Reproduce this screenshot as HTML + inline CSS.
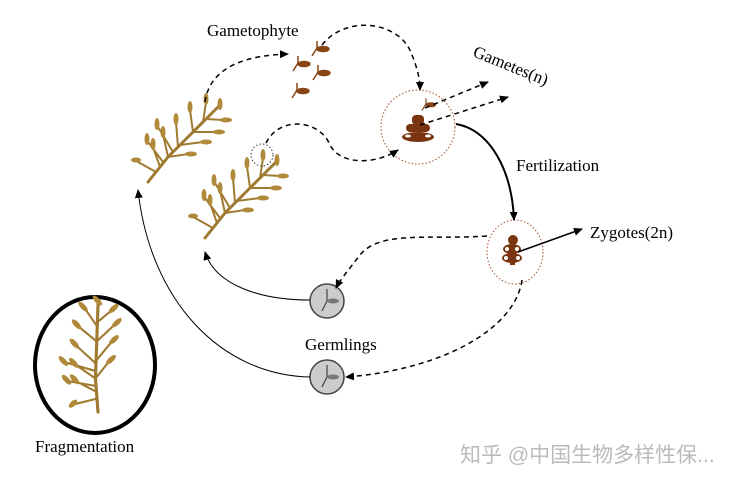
<!DOCTYPE html>
<html><head><meta charset="utf-8"><style>
html,body{margin:0;padding:0;background:#fff;}
svg{display:block;font-family:"Liberation Serif",serif;}
</style></head><body>
<svg width="737" height="483" viewBox="0 0 737 483" xmlns="http://www.w3.org/2000/svg">
<defs>
<marker id="a" markerWidth="10" markerHeight="10" refX="8" refY="5" orient="auto" markerUnits="userSpaceOnUse"><path d="M0,1 L9,5 L0,9 Z" fill="#000"/></marker>
<g id="weed" stroke="#a07a30" fill="none" stroke-linecap="round">
<path d="M0,0 L20,-25 L45,-50 L70,-75" stroke-width="3"/>
<path d="M12,-15 L5,-35 M20,-25 L15,-48 M30,-35 L28,-60 M45,-50 L42,-72 M55,-60 L58,-80 M20,-25 L40,-28 M32,-37 L55,-40 M45,-50 L68,-50 M58,-63 L75,-62 M8,-10 L-10,-20 M15,-20 L0,-40 M25,-30 L10,-55" stroke-width="2"/>
<g fill="#b08a3a" stroke="none">
<ellipse cx="5" cy="-38" rx="2.5" ry="6"/><ellipse cx="15" cy="-50" rx="2.5" ry="6"/><ellipse cx="28" cy="-63" rx="2.5" ry="6"/><ellipse cx="42" cy="-75" rx="2.5" ry="6"/><ellipse cx="58" cy="-83" rx="2.5" ry="6"/><ellipse cx="72" cy="-78" rx="2.5" ry="6"/><ellipse cx="43" cy="-28" rx="6" ry="2.5"/><ellipse cx="58" cy="-40" rx="6" ry="2.5"/><ellipse cx="71" cy="-50" rx="6" ry="2.5"/><ellipse cx="78" cy="-62" rx="6" ry="2.5"/><ellipse cx="-12" cy="-22" rx="5" ry="2.5"/><ellipse cx="-1" cy="-43" rx="2.5" ry="6"/><ellipse cx="9" cy="-58" rx="2.5" ry="6"/>
</g></g>
<g id="sprout" stroke="#8a4515" fill="#8a4515" stroke-width="1.5"><path d="M0,8 L5,0 L5,-7" fill="none"/><ellipse cx="11" cy="1" rx="6" ry="2.5"/></g>
<g id="germ"><circle r="17" fill="#ccc" stroke="#444" stroke-width="1.5"/><path d="M-5,10 L0,0 L0,-12" stroke="#444" fill="none" stroke-width="1.2"/><ellipse cx="6" cy="0" rx="6" ry="2.5" fill="#777"/></g>
</defs>

<text x="207" y="36" font-size="17">Gametophyte</text>
<text x="472" y="56" font-size="17" transform="rotate(22 472 56)">Gametes(n)</text>
<text x="516" y="171" font-size="17">Fertilization</text>
<text x="590" y="238" font-size="17">Zygotes(2n)</text>
<text x="305" y="350" font-size="17">Germlings</text>
<text x="35" y="452" font-size="17">Fragmentation</text>
<text x="460" y="462" font-size="21" fill="#bbb" font-family="'Liberation Sans','Noto Sans CJK SC',sans-serif">知乎 @中国生物多样性保...</text>

<use href="#weed" transform="translate(148,182)"/>
<use href="#weed" transform="translate(205,238)"/>
<circle cx="262" cy="155" r="11" fill="none" stroke="#333" stroke-dasharray="1.5 2"/>
<ellipse cx="95" cy="365" rx="60" ry="68" fill="none" stroke="#000" stroke-width="4"/>
<g transform="translate(98,412) rotate(-43) scale(1.05)"><use href="#weed"/></g>

<use href="#sprout" transform="translate(312,48)"/>
<use href="#sprout" transform="translate(293,63)"/>
<use href="#sprout" transform="translate(313,72)"/>
<use href="#sprout" transform="translate(292,90)"/>

<circle cx="418" cy="127" r="37" fill="none" stroke="#a0522d" stroke-dasharray="1.5 2"/>
<use href="#sprout" transform="translate(422,104) scale(0.8)"/>
<g fill="#7a3510"><rect x="412" y="115" width="12" height="10" rx="4"/><rect x="406" y="124" width="24" height="8" rx="4"/><ellipse cx="418" cy="137" rx="16" ry="5"/><ellipse cx="408" cy="136" rx="3" ry="1.5" fill="#fff"/><ellipse cx="428" cy="136" rx="3" ry="1.5" fill="#fff"/></g>

<ellipse cx="515" cy="252" rx="28" ry="32" fill="none" stroke="#a0522d" stroke-dasharray="1.5 2"/>
<g fill="#7a3510"><circle cx="513" cy="240" r="5"/><ellipse cx="512" cy="249" rx="9" ry="5"/><ellipse cx="512" cy="258" rx="10" ry="5"/><rect x="510" y="240" width="5" height="25"/></g>
<g fill="#fff"><circle cx="507" cy="249" r="2"/><circle cx="517" cy="249" r="2"/><circle cx="506" cy="258" r="2"/><circle cx="518" cy="258" r="2"/></g>

<use href="#germ" transform="translate(327,301)"/>
<use href="#germ" transform="translate(327,377)"/>

<g fill="none" stroke="#000" stroke-width="1.5" stroke-dasharray="5 4" marker-end="url(#a)">
<path d="M205,102 C210,65 250,55 288,54"/>
<path d="M322,45 C345,15 400,20 412,55 C418,70 420,80 420,90"/>
<path d="M266,143 C280,115 320,120 330,145 C340,165 375,165 398,150"/>
<path d="M425,108 L488,82"/>
<path d="M420,125 L508,97"/>
<path d="M487,236 C430,240 380,230 360,255 C350,268 340,280 336,288"/>
<path d="M522,280 C515,330 440,370 346,377"/>
</g>
<g fill="none" stroke="#000" marker-end="url(#a)">
<path d="M456,124 C490,130 512,170 514,220" stroke-width="2"/>
<path d="M518,252 L582,229" stroke-width="1.5"/>
<path d="M310,300 C260,300 215,285 205,252" stroke-width="1"/>
<path d="M310,377 C220,375 150,300 138,190" stroke-width="1"/>
</g>
</svg>
</body></html>
